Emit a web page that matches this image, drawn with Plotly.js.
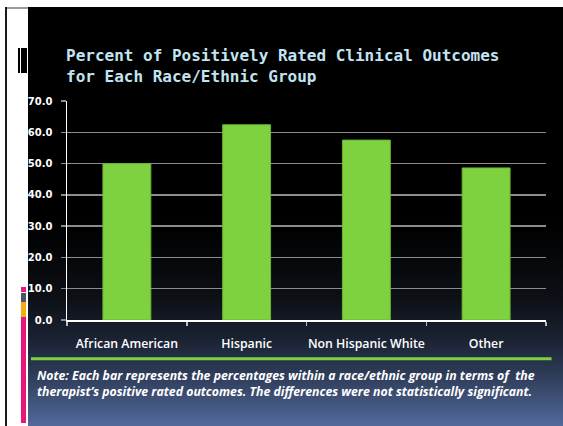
<!DOCTYPE html>
<html>
<head>
<meta charset="utf-8">
<script src="https://cdn.plot.ly/plotly-3.0.1.min.js"></script>
<style>
  html, body { margin:0; padding:0; background:#ffffff; width:563px; height:426px; overflow:hidden; }
  #slide { position:absolute; left:28px; top:7px; width:535px; height:419px;
    background: linear-gradient(to bottom, #000000 0px, #000000 215px, #0d1016 293px, #1c2536 336px, #2f3d5a 369px, #52699a 419px); }
  #chart { position:absolute; left:0; top:0; width:563px; height:426px; }
  .deco { position:absolute; }
</style>
</head>
<body>
<div id="slide"></div>
<div id="chart"></div>
<div class="deco" style="left:0;top:0;width:28px;height:426px;background:#ffffff;"></div>
<div class="deco" style="left:5px;top:7px;width:23px;height:2px;background:#9a9a9a;"></div>
<div class="deco" style="left:5px;top:7px;width:2px;height:419px;background:#1a1a1a;"></div>
<div class="deco" style="left:18px;top:48px;width:2px;height:25px;background:#000000;"></div>
<div class="deco" style="left:21px;top:48px;width:6px;height:25px;background:#000000;"></div>
<div class="deco" style="left:21px;top:287px;width:5px;height:5px;background:#e8177e;"></div>
<div class="deco" style="left:21px;top:293px;width:5px;height:9px;background:#4c5566;"></div>
<div class="deco" style="left:21px;top:302px;width:5px;height:15px;background:#f5ae0f;"></div>
<div class="deco" style="left:21px;top:317px;width:5px;height:106px;background:#e8177e;"></div>
<script>
const categories = ["African American", "Hispanic", "Non Hispanic White", "Other"];
const values = [50.0, 62.4, 57.5, 48.6];
const titleLines = ["Percent of Positively Rated Clinical Outcomes", "for Each Race/Ethnic Group"];
const noteLines = [
  "Note: Each bar represents the percentages within a race/ethnic group in terms of  the",
  "therapist\u2019s positive rated outcomes. The differences were not statistically significant."
];

const W = 563, H = 426;
const L = 67, R = 546, T = 101, B = 320.3;
const px2x = p => (p - L) / (R - L);
const py2y = p => (B - p) / (B - T);

const trace = {
  type: "bar",
  x: categories,
  y: values,
  width: 0.4,
  marker: { color: "#7ed13f", line: { color: "#6cb434", width: 1 } },
  hoverinfo: "none"
};

const layout = {
  width: W, height: H,
  margin: { l: L, r: W - R, t: T, b: H - B, pad: 0 },
  paper_bgcolor: "rgba(0,0,0,0)",
  plot_bgcolor: "rgba(0,0,0,0)",
  showlegend: false,
  title: {
    text: titleLines.join("<br>"),
    font: { family: "DejaVu Sans Mono", size: 16, color: "#c2e4f2", weight: "bold" },
    x: 66 / W, xanchor: "left", xref: "container",
    y: 1 - 61 / H, yanchor: "middle", yref: "container"
  },
  xaxis: {
    type: "category",
    tickson: "boundaries",
    tickangle: 0,
    ticks: "outside", ticklen: 4, tickcolor: "#bdbdbd", tickwidth: 1.5,
    showline: true, linecolor: "#ffffff", linewidth: 1.5,
    showgrid: false, zeroline: false,
    tickfont: { family: "Open Sans", size: 12.3, color: "#ffffff", weight: 600 },
    ticklabelstandoff: 12,
    range: [-0.5, 3.5]
  },
  yaxis: {
    range: [0, 70],
    dtick: 10, tick0: 0,
    tickformat: ".1f",
    ticks: "outside", ticklen: 5, tickcolor: "#8c8c8c", tickwidth: 1.5,
    showgrid: true, gridcolor: "#8c8c8c", gridwidth: 1.5,
    showline: true, linecolor: "#ffffff", linewidth: 1.5,
    zeroline: false,
    tickfont: { family: "DejaVu Sans", size: 10, color: "#ffffff", weight: "bold" },
    ticklabelstandoff: 6
  },
  shapes: [{
    type: "line", xref: "paper", yref: "paper",
    x0: px2x(31), x1: px2x(551.5), y0: py2y(359), y1: py2y(359),
    line: { color: "#7ed13f", width: 3 }
  }],
  annotations: [
    { text: "<i><b>" + noteLines[0] + "</b></i>", xref: "paper", yref: "paper",
      x: px2x(35), y: py2y(376), xanchor: "left", yanchor: "middle", showarrow: false,
      font: { family: "Open Sans", size: 12.3, color: "#ffffff" } },
    { text: "<i><b>" + noteLines[1] + "</b></i>", xref: "paper", yref: "paper",
      x: px2x(35), y: py2y(392), xanchor: "left", yanchor: "middle", showarrow: false,
      font: { family: "Open Sans", size: 12.3, color: "#ffffff" } }
  ]
};

Plotly.newPlot("chart", [trace], layout, { staticPlot: true, displayModeBar: false });
</script>
</body>
</html>
